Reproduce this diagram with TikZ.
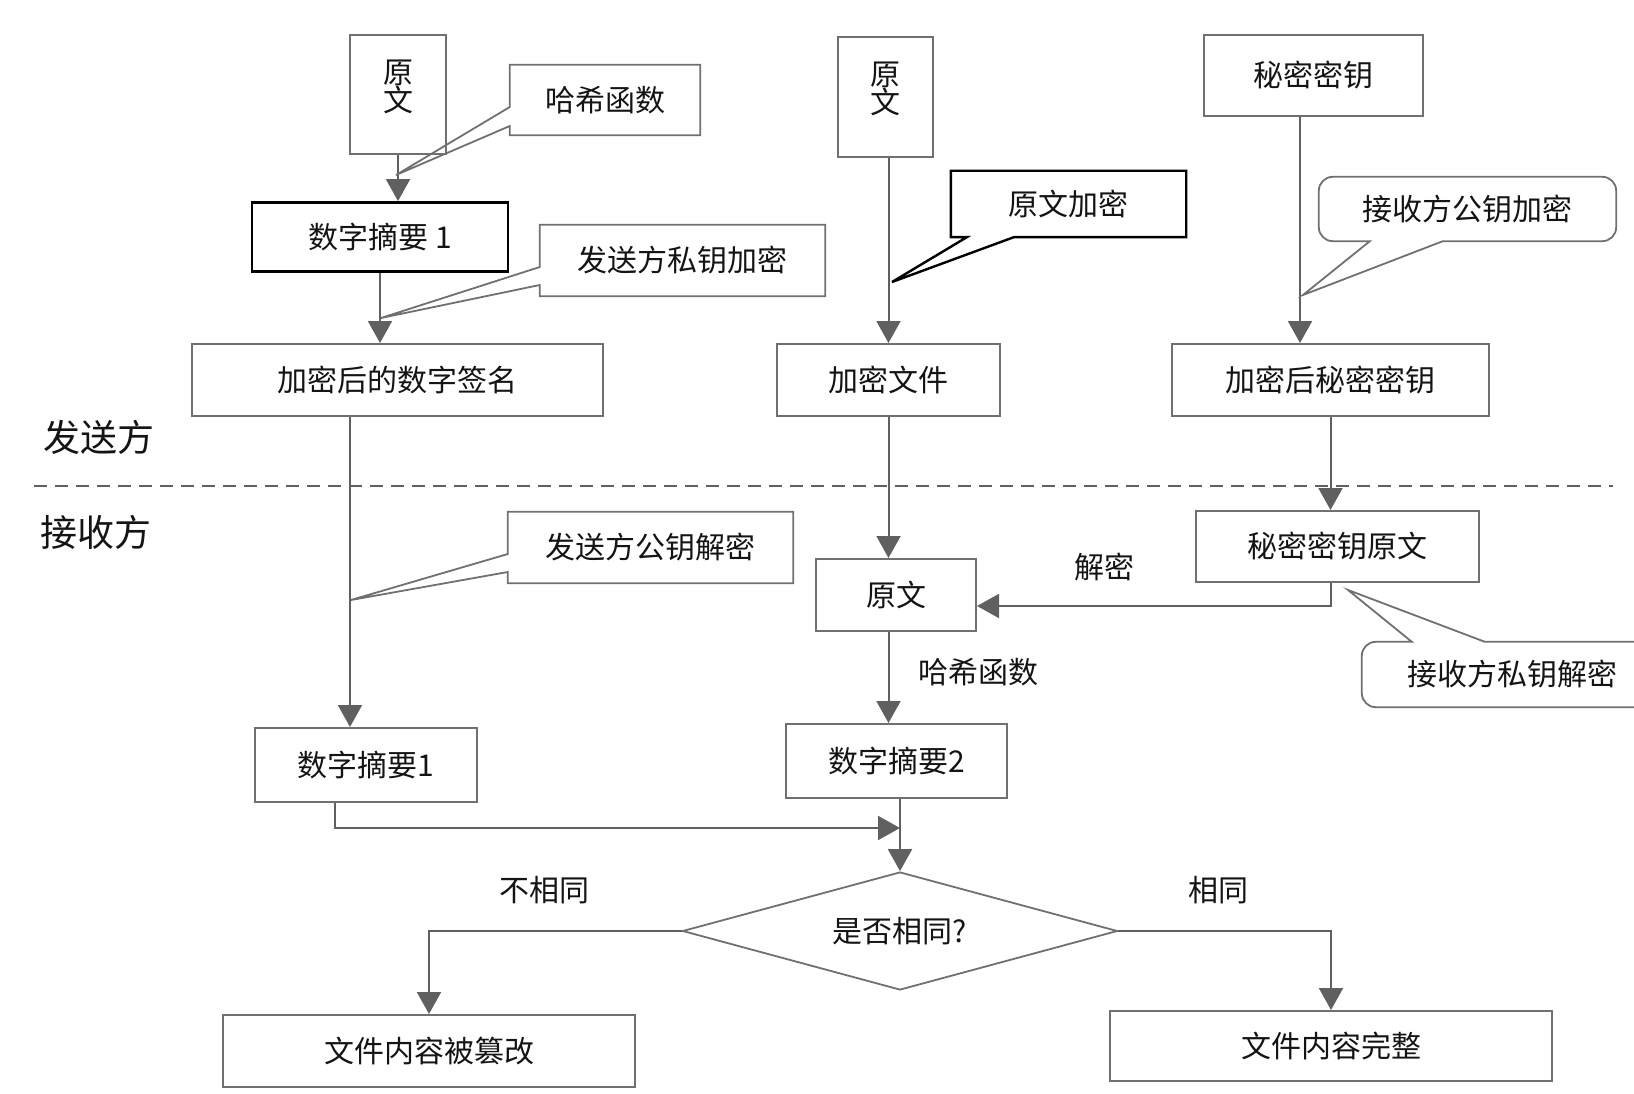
\documentclass[tikz,border=0pt]{standalone}
\usepackage{fontspec}
\setmainfont{Noto Sans CJK SC}
\usepackage{tikz}
\usetikzlibrary{positioning,arrows.meta,shapes.geometric}
\definecolor{colorline}{RGB}{96,96,96}
\definecolor{colorbox}{RGB}{112,112,112}
\definecolor{colortext}{RGB}{20,20,20}

\begin{document}
\begin{tikzpicture}[
    x=1pt, y=-1pt,
    font={\fontsize{30}{34}\selectfont},
    box/.style={draw=colorbox,line width=2pt,text=colortext,inner sep=0pt},
    tallbox/.style={box,align=center,text depth=18pt,font={\fontsize{30}{28}\selectfont}},
    darkbox/.style={draw=black,line width=2.8pt,text=colortext,inner sep=0pt},
    callbox/.style={text=colortext,inner sep=0pt},
    callline/.style={draw=colorbox,line width=1.8pt},
    flow/.style={draw=colorline,line width=2pt,-{Triangle[width=24pt,length=22pt]}},
    side/.style={text=colortext,font={\fontsize{37}{40}\selectfont}},
    tag/.style={text=colortext},
]
    \useasboundingbox (0,0) rectangle (1634,1094);

    % sender
    \node[tallbox,minimum width=96pt,minimum height=119pt] (plain1) at (398,94.5) {原\\文};
    \node[darkbox,minimum width=256pt,minimum height=69pt] (digest1) at (380,237) {数字摘要 1};
    \node[box,minimum width=411pt,minimum height=72pt] (signed) at (397.5,380) {加密后的数字签名};

    \node[tallbox,minimum width=95pt,minimum height=120pt] (plain2) at (885.5,97) {原\\文};
    \node[box,minimum width=223pt,minimum height=72pt] (file) at (888.5,380) {加密文件};

    \node[box,minimum width=219pt,minimum height=81pt] (key) at (1313.5,75.5) {秘密密钥};
    \node[box,minimum width=317pt,minimum height=72pt] (enckey) at (1330.5,380) {加密后秘密密钥};

    \node[side] (sender) at (99,437) {发送方};
    \draw[colorline,line width=2pt,dash pattern=on 13pt off 8pt] (34,486) -- (1613,486);
    \node[side] (receiver) at (96,532) {接收方};

    % receiver
    \node[box,minimum width=283pt,minimum height=71pt] (rawkey) at (1337.5,546.5) {秘密密钥原文};
    \node[box,minimum width=160pt,minimum height=72pt] (plain3) at (896,595) {原文};
    \node[box,minimum width=222pt,minimum height=74pt] (digestr) at (366,765) {数字摘要1};
    \node[box,minimum width=221pt,minimum height=74pt] (digest2) at (896.5,761) {数字摘要2};
    \node[diamond,draw=colorbox,line width=1.8pt,aspect=3.7,inner sep=0pt,
          minimum width=435pt,minimum height=118pt,text=colortext] (same) at (900,931) {是否相同?};
    \node[box,minimum width=412pt,minimum height=72pt] (broken) at (429,1051) {文件内容被篡改};
    \node[box,minimum width=442pt,minimum height=70pt] (intact) at (1331,1046) {文件内容完整};

    \node[tag] (decrypt) at (1104,567) {解密};
    \node[tag] (hash2) at (978,672) {哈希函数};
    \node[tag] (differ) at (544,890) {不相同};
    \node[tag] (equal) at (1218,890) {相同};

    % connectors
    \draw[flow] (plain1.south) -- (plain1.south |- digest1.north);
    \draw[flow] (digest1.south) -- (digest1.south |- signed.north);
    \draw[flow] ([xshift=-47.5pt]signed.south) -- ([xshift=-47.5pt]signed.south |- digestr.north);
    \draw[flow] (file.north |- plain2.south) -- (file.north);
    \draw[flow] (file.south) -- (file.south |- plain3.north);
    \draw[flow] (file.south |- plain3.south) -- (file.south |- digest2.north);
    \draw[flow] ([xshift=-13.5pt]key.south) -- ([xshift=-13.5pt]key.south |- enckey.north);
    \draw[flow] (enckey.south) -- (enckey.south |- rawkey.north);
    \draw[flow] ([xshift=-7pt]rawkey.south) |- ([yshift=-11pt]plain3.east);
    \coordinate (meet) at (900,828);
    \draw[flow] ([xshift=-31pt]digestr.south) |- (meet);
    \draw[flow] (same.north |- digest2.south) -- (same.north);
    \draw[flow] (same.west) -| (broken.north);
    \draw[flow] (same.east) -| (intact.north);

    % callouts
    \node[callbox,minimum width=190pt,minimum height=70pt] (hashnote) at (605,100) {哈希函数};
    \coordinate (hashtip) at (396,175);
    \draw[callline] (hashnote.north west) -- (hashnote.north east) -- (hashnote.south east) -- (hashnote.south west)
        -- ([yshift=-26pt]hashnote.west) -- (hashtip) -- ([yshift=-7pt]hashnote.west) -- cycle;

    \node[callbox,minimum width=285pt,minimum height=71pt] (signnote) at (682.5,260.5) {发送方私钥加密};
    \coordinate (signtip) at (381,318);
    \draw[callline] (signnote.north west) -- (signnote.north east) -- (signnote.south east) -- (signnote.south west)
        -- ([yshift=-24.5pt]signnote.west) -- (signtip) -- ([yshift=-6.5pt]signnote.west) -- cycle;

    \node[callbox,minimum width=235pt,minimum height=66pt] (encnote) at (1068.5,204) {原文加密};
    \coordinate (enctip) at (892,282);
    \draw[callline,draw=black,line width=2.4pt] (encnote.north west) -- (encnote.north east) -- (encnote.south east)
        -- ([xshift=63pt]encnote.south west) -- (enctip) -- ([xshift=16pt]encnote.south west) -- (encnote.south west) -- cycle;

    \node[callbox,minimum width=297pt,minimum height=64pt] (pubnote) at (1467.5,209) {接收方公钥加密};
    \coordinate (pubtip) at (1303,295);
    \draw[callline] (pubtip) -- ([xshift=124pt]pubnote.south west) [rounded corners=14pt] -- (pubnote.south east)
        -- (pubnote.north east) -- (pubnote.north west) -- (pubnote.south west) [sharp corners]
        -- ([xshift=51pt]pubnote.south west) -- cycle;

    \node[callbox,minimum width=285pt,minimum height=71pt] (vernote) at (650.5,547.5) {发送方公钥解密};
    \coordinate (vertip) at (351,600);
    \draw[callline] (vernote.north west) -- (vernote.north east) -- (vernote.south east) -- (vernote.south west)
        -- ([yshift=-24.5pt]vernote.west) -- (vertip) -- ([yshift=-6.5pt]vernote.west) -- cycle;

    \node[callbox,minimum width=300pt,minimum height=65pt] (privnote) at (1512,674.5) {接收方私钥解密};
    \coordinate (privtip) at (1348,590);
    \draw[callline] (privtip) -- ([xshift=123pt]privnote.north west) [rounded corners=14pt] -- (privnote.north east)
        -- (privnote.south east) -- (privnote.south west) -- (privnote.north west) [sharp corners]
        -- ([xshift=50pt]privnote.north west) -- cycle;

\end{tikzpicture}
\end{document}
